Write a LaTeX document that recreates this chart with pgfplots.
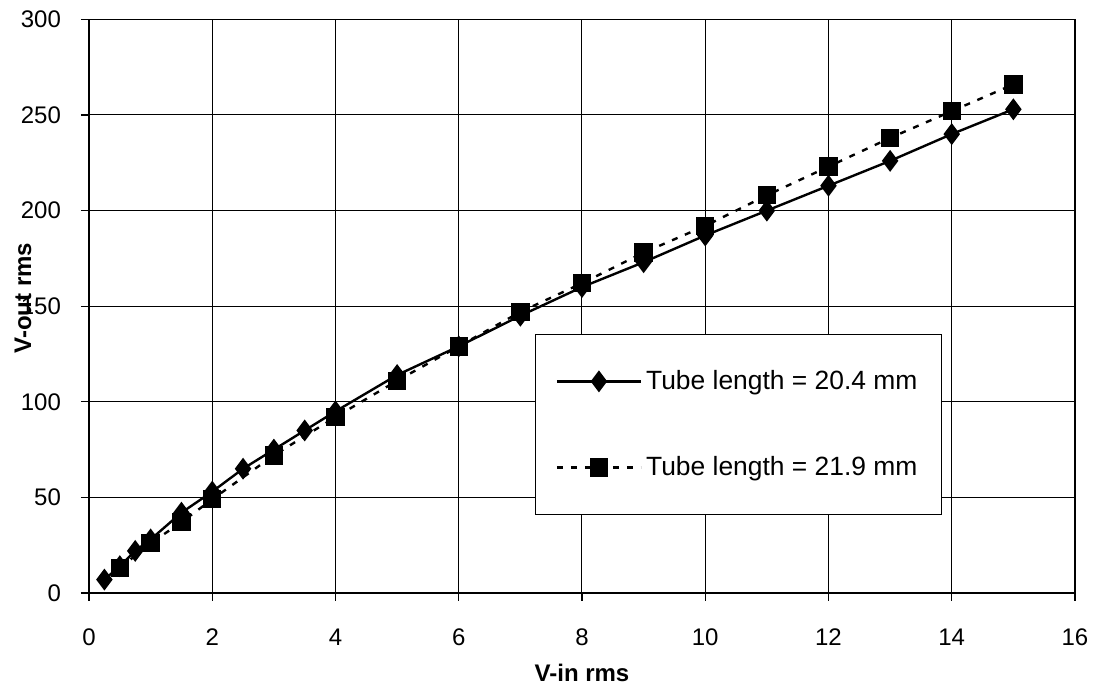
\documentclass[border=0pt]{standalone}
\usepackage{pgfplots}
\pgfplotsset{compat=1.18}
\usepackage{fontspec}
\setmainfont{Liberation Sans}

\begin{document}
\begin{tikzpicture}
% fix page to reference proportions (1 px = 0.5pt)
\useasboundingbox (-44.5pt,-50.5pt) rectangle (502.5pt,296.5pt);
\begin{axis}[
    scale only axis,
    width=493pt, height=286.8pt,
    xmin=0, xmax=16, ymin=0, ymax=300,
    xtick={0,2,...,16}, ytick={0,50,...,300},
    grid=major,
    major grid style={black, line width=0.5pt},
    axis line style={black, line width=0.8pt},
    tick align=outside,
    major tick length=4pt,
    tick style={black, line width=0.6pt},
    xtick pos=bottom, ytick pos=left,
    /pgf/number format/assume math mode=true,
    ticklabel style={font=\fontsize{12}{14}\selectfont},
    xticklabel shift=10.5pt,
    yticklabel shift=6.5pt,
    xlabel={V-in rms}, ylabel={V-out rms},
    xlabel style={font=\bfseries\fontsize{12}{14}\selectfont,
        at={(axis description cs:0.5,0)}, anchor=center, yshift=-40pt},
    ylabel style={font=\bfseries\fontsize{12}{14}\selectfont,
        at={(axis description cs:-0.067,0.514)}, anchor=center},
    legend style={at={(axis cs:7.24,40.7)}, anchor=south west,
        draw=black, line width=0.6pt, inner xsep=10pt, inner ysep=16pt,
        row sep=28pt, font=\fontsize{13.2}{15.8}\selectfont},
    legend cell align=left,
    legend image code/.code={
        \draw[mark repeat=2, mark phase=2] plot coordinates {(0pt,0pt) (21pt,0pt) (42pt,0pt)};},
]
\addplot[black, line width=1.2pt, mark=diamond*, mark size=4.5pt,
    mark options={solid}] coordinates {
    (0.25,7) (0.5,14) (0.75,22) (1,28) (1.5,42) (2,53) (2.5,65) (3,75)
    (3.5,85) (4,95) (5,114) (6,129) (7,145) (8,160) (9,173) (10,187)
    (11,200) (12,213) (13,226) (14,240) (15,253)
};
\addlegendentry{Tube length = 20.4 mm}
\addplot[black, line width=1.2pt, dash pattern=on 3pt off 4pt, mark=square*,
    mark size=4pt, mark options={solid}] coordinates {
    (0.5,13) (1,26) (1.5,37) (2,49) (3,72) (4,92) (5,111) (6,129)
    (7,147) (8,162) (9,178) (10,192) (11,208) (12,223) (13,238)
    (14,252) (15,266)
};
\addlegendentry{Tube length = 21.9 mm}
\end{axis}
\end{tikzpicture}
\end{document}
